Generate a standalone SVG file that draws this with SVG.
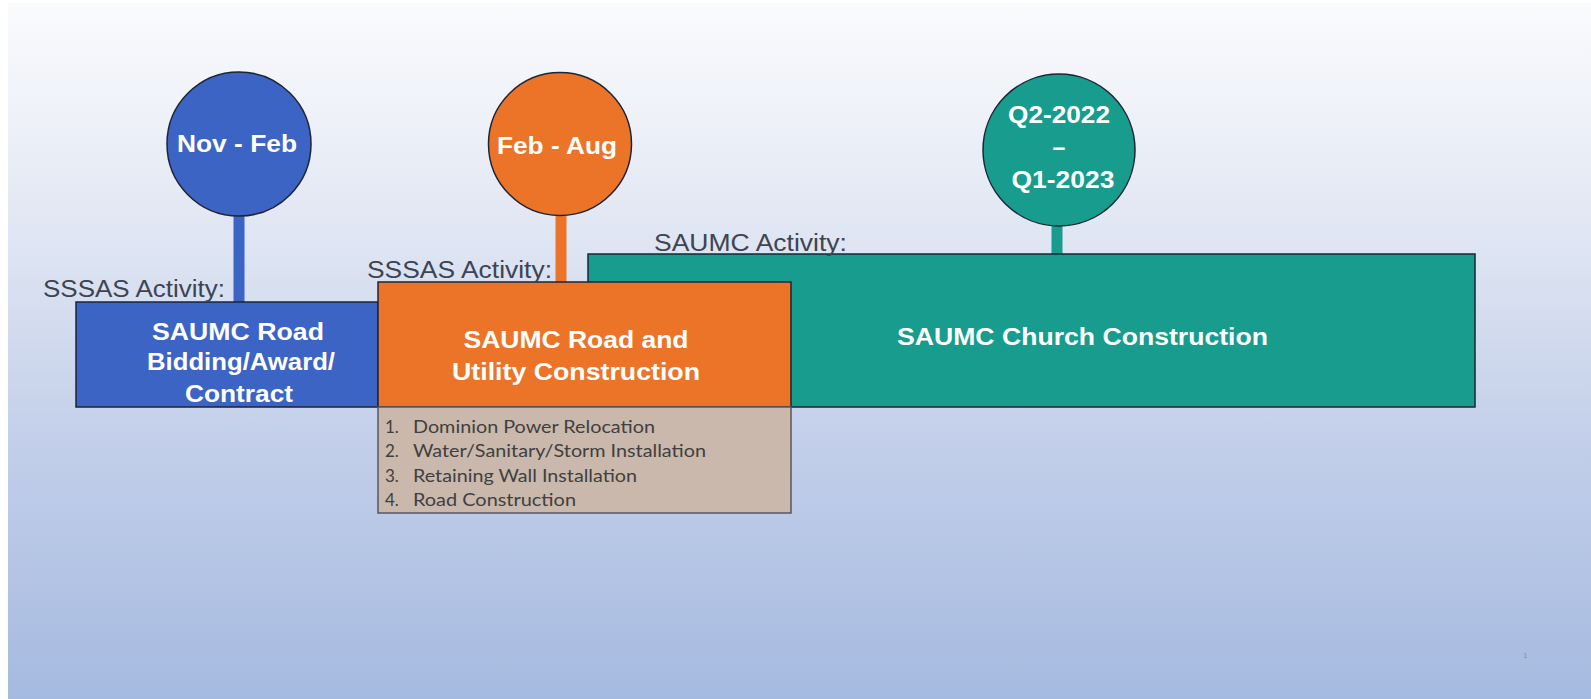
<svg xmlns="http://www.w3.org/2000/svg" width="1591" height="699" viewBox="0 0 1591 699">
  <defs>
    <linearGradient id="bg" x1="0" y1="0" x2="0" y2="699" gradientUnits="userSpaceOnUse">
      <stop offset="0" stop-color="#fafbfd"/>
      <stop offset="0.17" stop-color="#eef1f8"/>
      <stop offset="0.33" stop-color="#e0e6f3"/>
      <stop offset="0.615" stop-color="#c4d0ea"/>
      <stop offset="1" stop-color="#a5bae0"/>
    </linearGradient>
    <style>
      .box { stroke: #1c2535; stroke-width: 1.5; }
      .blue { fill: #3c64c4; }
      .orange { fill: #ec7429; }
      .teal { fill: #179c8e; }
      .list { fill: #c9b8ab; stroke: #55585e; stroke-width: 1.5; }
      .w { font-family: "Liberation Sans", Arial, sans-serif; font-weight: bold; fill: #ffffff; font-size: 23px; text-anchor: middle; }
      .wl { font-size: 24px; }
      .lbl { font-family: "Liberation Sans", Arial, sans-serif; fill: #3d4452; font-size: 23px; }
      .li { font-family: Lato, "Open Sans", sans-serif; fill: #404040; font-size: 17px; }
      .stem { stroke-width: 11; fill: none; }
    </style>
  </defs>

  <rect x="0" y="0" width="1591" height="699" fill="#ffffff"/>
  <rect x="8" y="3" width="1583" height="696" fill="url(#bg)"/>

  <g id="connectors">
    <line class="stem" x1="239" y1="212" x2="239" y2="302" stroke="#3c64c4"/>
    <line class="stem" x1="561" y1="214" x2="561" y2="282" stroke="#ec7429"/>
    <line class="stem" x1="1057" y1="222" x2="1057" y2="254" stroke="#179c8e"/>
  </g>

  <g id="node-road-bidding">
    <rect class="box blue" x="76" y="302" width="302" height="105"/>
    <text class="w" x="238" y="340" textLength="172" lengthAdjust="spacingAndGlyphs">SAUMC Road</text>
    <text class="w" x="241" y="370" textLength="188" lengthAdjust="spacingAndGlyphs">Bidding/Award/</text>
    <text class="w" x="239" y="402" textLength="108" lengthAdjust="spacingAndGlyphs">Contract</text>
  </g>

  <g id="node-church-construction">
    <rect class="box teal" x="588" y="254" width="887" height="153"/>
    <text class="w wl" x="897" y="345" style="text-anchor:start" textLength="371" lengthAdjust="spacingAndGlyphs">SAUMC Church Construction</text>
  </g>

  <g id="node-road-utility">
    <rect class="box orange" x="378" y="282" width="413" height="125"/>
    <text class="w wl" x="576" y="348" textLength="225" lengthAdjust="spacingAndGlyphs">SAUMC Road and</text>
    <text class="w wl" x="576" y="380" textLength="248" lengthAdjust="spacingAndGlyphs">Utility Construction</text>
  </g>

  <g id="node-task-list">
    <rect class="list" x="378" y="407" width="413" height="106"/>
    <text class="li" x="385" y="433">1.</text>
    <text class="li" x="413" y="433" textLength="242" lengthAdjust="spacingAndGlyphs">Dominion Power Relocation</text>
    <text class="li" x="385" y="457">2.</text>
    <text class="li" x="413" y="457" textLength="293" lengthAdjust="spacingAndGlyphs">Water/Sanitary/Storm Installation</text>
    <text class="li" x="385" y="481.5">3.</text>
    <text class="li" x="413" y="481.5" textLength="224" lengthAdjust="spacingAndGlyphs">Retaining Wall Installation</text>
    <text class="li" x="385" y="505.5">4.</text>
    <text class="li" x="413" y="505.5" textLength="163" lengthAdjust="spacingAndGlyphs">Road Construction</text>
  </g>

  <g id="node-nov-feb">
    <circle class="box blue" cx="239" cy="144" r="72"/>
    <text class="w" x="237" y="152" textLength="120" lengthAdjust="spacingAndGlyphs">Nov - Feb</text>
  </g>

  <g id="node-feb-aug">
    <circle class="box orange" cx="560" cy="144" r="71.5"/>
    <text class="w" x="557" y="154" textLength="120" lengthAdjust="spacingAndGlyphs">Feb - Aug</text>
  </g>

  <g id="node-q2-q1">
    <circle class="box teal" cx="1059" cy="150" r="76"/>
    <text class="w" x="1059" y="123" textLength="102" lengthAdjust="spacingAndGlyphs">Q2-2022</text>
    <text class="w" x="1059" y="155">–</text>
    <text class="w" x="1063" y="188" textLength="103" lengthAdjust="spacingAndGlyphs">Q1-2023</text>
  </g>

  <g id="labels">
    <text class="lbl" x="43" y="297" textLength="182" lengthAdjust="spacingAndGlyphs">SSSAS Activity:</text>
    <text class="lbl" x="367" y="278" textLength="185" lengthAdjust="spacingAndGlyphs">SSSAS Activity:</text>
    <text class="lbl" x="654" y="251" textLength="193" lengthAdjust="spacingAndGlyphs">SAUMC Activity:</text>
    <text x="1523" y="658" font-family="Liberation Sans, sans-serif" font-size="8" fill="#7f93bd">1</text>
  </g>
</svg>
